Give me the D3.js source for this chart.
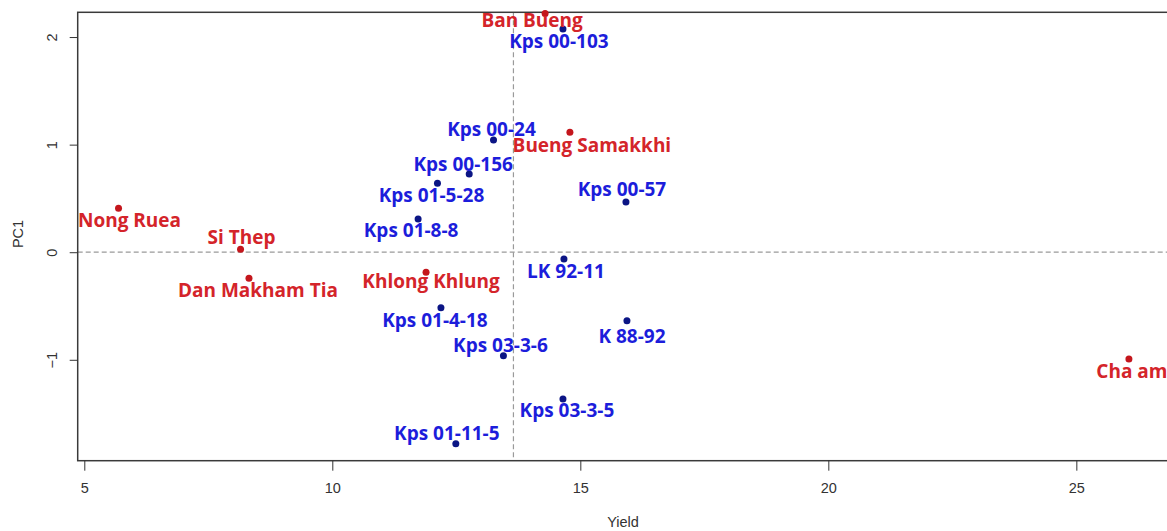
<!DOCTYPE html>
<html>
<head>
<meta charset="utf-8">
<script src="https://cdn.jsdelivr.net/npm/d3@7"></script>
<style>
  body { margin: 0; background: #fff; overflow: hidden; }
  svg { display: block; }
</style>
</head>
<body>
<div id="chart"></div>
<script>
// Genotypen (blau)
const genotypes = ['Kps 00-103', 'Kps 00-24', 'Kps 00-156', 'Kps 01-5-28', 'Kps 01-8-8', 'Kps 00-57',
                   'LK 92-11', 'Kps 01-4-18', 'K 88-92', 'Kps 03-3-6', 'Kps 03-3-5', 'Kps 01-11-5'];
const genotypeYield = [14.65, 13.25, 12.76, 12.12, 11.73, 15.92, 14.67, 12.19, 15.94, 13.45, 14.65, 12.49];
const genotypePC1 = [2.074, 1.043, 0.727, 0.640, 0.309, 0.467, -0.063, -0.516, -0.637, -0.962, -1.364, -1.780];

// Standorte (rot)
const locations = ['Ban Bueng', 'Bueng Samakkhi', 'Nong Ruea', 'Si Thep', 'Dan Makham Tia', 'Khlong Khlung', 'Cha am'];
const locationYield = [14.29, 14.79, 5.69, 8.15, 8.32, 11.89, 26.06];
const locationPC1 = [2.220, 1.114, 0.408, 0.027, -0.243, -0.187, -0.993];

// Achsenbeschriftungen
const xTicks = [5, 10, 15, 20, 25];
const yTicks = [-1, 0, 1, 2];
const xTitle = 'Yield';
const yTitle = 'PC1';

// Verschiebung der Beschriftung relativ zum Punkt (Pixel)
const labelOffset = {
    'Kps 00-103': [-4, 12], 'Kps 00-24': [-2, -11], 'Kps 00-156': [-6, -10], 'Kps 01-5-28': [-6, 12],
    'Kps 01-8-8': [-7, 11], 'Kps 00-57': [-4, -13], 'LK 92-11': [2, 12], 'Kps 01-4-18': [-6, 12],
    'K 88-92': [5, 15], 'Kps 03-3-6': [-3, -11], 'Kps 03-3-5': [4, 11], 'Kps 01-11-5': [-9, -11],
    'Ban Bueng': [-13, 7], 'Bueng Samakkhi': [22, 13], 'Nong Ruea': [11, 12], 'Si Thep': [1, -12],
    'Dan Makham Tia': [9, 12], 'Khlong Khlung': [5, 9], 'Cha am': [3, 12]
};

const points = [
    ...genotypes.map((g, i) => ({ name: g, x: genotypeYield[i], y: genotypePC1[i], type: 'gen' })),
    ...locations.map((l, i) => ({ name: l, x: locationYield[i], y: locationPC1[i], type: 'loc' }))
];

const W = 1167, H = 531;
const margin = { top: 12.3, left: 77.7, bottom: 460.7, right: 1180 };

const svg = d3.select('#chart').append('svg')
    .attr('width', W)
    .attr('height', H);

// Skalen
const x = d3.scaleLinear().domain([4.867, 27.09]).range([margin.left, margin.right]);
const y = d3.scaleLinear().domain([-1.938, 2.23]).range([margin.bottom, margin.top]);

// Referenzlinien (Mittelwert Ertrag der Genotypen und PC1 = 0)
const meanYield = d3.mean(genotypeYield);
svg.append('line')
    .attr('x1', margin.left).attr('x2', margin.right)
    .attr('y1', y(0)).attr('y2', y(0))
    .attr('stroke', '#9a9a9a').attr('stroke-width', 1.2).attr('stroke-dasharray', '5,3');
svg.append('line')
    .attr('x1', x(meanYield)).attr('x2', x(meanYield))
    .attr('y1', margin.top).attr('y2', margin.bottom)
    .attr('stroke', '#9a9a9a').attr('stroke-width', 1.2).attr('stroke-dasharray', '5,3');

// Rahmen
svg.append('rect')
    .attr('x', margin.left).attr('y', margin.top)
    .attr('width', margin.right - margin.left).attr('height', margin.bottom - margin.top)
    .attr('fill', 'none').attr('stroke', '#3a3a3a').attr('stroke-width', 1.5);

// X-Achse
const xAxis = svg.append('g')
    .attr('transform', `translate(0,${margin.bottom})`)
    .call(d3.axisBottom(x).tickValues(xTicks).tickSize(10).tickPadding(12).tickFormat(d3.format('d')));
xAxis.select('.domain').remove();
xAxis.selectAll('line').attr('stroke', '#333');
xAxis.selectAll('text').attr('font-family', 'Liberation Sans, Arial, sans-serif').attr('font-size', 14.5).attr('fill', '#333');

// Y-Achse (Beschriftung gedreht wie in R)
const yAxis = svg.append('g')
    .attr('transform', `translate(${margin.left},0)`)
    .call(d3.axisLeft(y).tickValues(yTicks).tickSize(8).tickFormat(d3.format('d')));
yAxis.select('.domain').remove();
yAxis.selectAll('line').attr('stroke', '#333');
yAxis.selectAll('text')
    .attr('font-family', 'Liberation Sans, Arial, sans-serif').attr('font-size', 14.5).attr('fill', '#333')
    .attr('text-anchor', 'middle')
    .attr('x', 0).attr('dy', null)
    .attr('transform', 'translate(-26,0) rotate(-90)')
    .attr('dominant-baseline', 'central');

// Achsentitel
svg.append('text')
    .attr('x', 623).attr('y', 527)
    .attr('text-anchor', 'middle')
    .attr('font-family', 'Liberation Sans, Arial, sans-serif').attr('font-size', 14.5).attr('fill', '#333')
    .text(xTitle);
svg.append('text')
    .attr('transform', 'translate(23,234) rotate(-90)')
    .attr('text-anchor', 'middle')
    .attr('font-family', 'Liberation Sans, Arial, sans-serif').attr('font-size', 14.5).attr('fill', '#333')
    .text(yTitle);

// Punkte
svg.append('g').selectAll('circle')
    .data(points)
    .enter().append('circle')
    .attr('cx', d => x(d.x))
    .attr('cy', d => y(d.y))
    .attr('r', 3.5)
    .attr('fill', d => d.type === 'gen' ? '#0b1585' : '#c4161c');

// Beschriftungen
svg.append('g').selectAll('text')
    .data(points)
    .enter().append('text')
    .attr('x', d => x(d.x) + labelOffset[d.name][0])
    .attr('y', d => y(d.y) + labelOffset[d.name][1])
    .attr('text-anchor', 'middle')
    .attr('dominant-baseline', 'central')
    .attr('font-family', 'Open Sans, sans-serif')
    .attr('font-weight', 700)
    .attr('font-size', 19)
    .attr('fill', d => d.type === 'gen' ? '#1c1ddb' : '#d4242a')
    .text(d => d.name);
</script>
</body>
</html>
